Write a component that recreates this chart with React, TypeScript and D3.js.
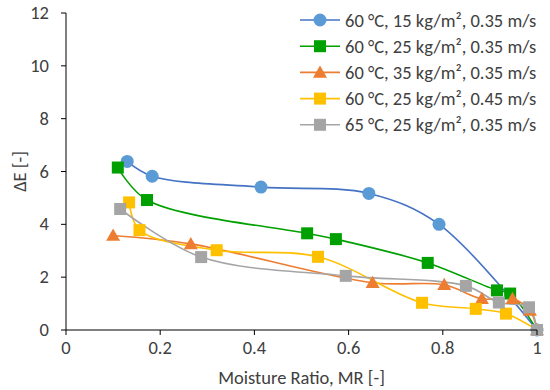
import React from 'react';
import * as d3 from 'd3';

// chart values
const seriesNames = [
  '60 °C, 15 kg/m², 0.35 m/s',
  '60 °C, 25 kg/m², 0.35 m/s',
  '60 °C, 35 kg/m², 0.35 m/s',
  '60 °C, 25 kg/m², 0.45 m/s',
  '65 °C, 25 kg/m², 0.35 m/s',
];
const mr15 = [0.13, 0.183, 0.414, 0.643, 0.792, 1.0];
const de15 = [6.38, 5.82, 5.41, 5.17, 4.0, 0];
const mr25 = [0.11, 0.172, 0.512, 0.573, 0.768, 0.915, 0.943, 1.0];
const de25 = [6.15, 4.92, 3.66, 3.44, 2.54, 1.5, 1.38, 0];
const mr35 = [0.1, 0.265, 0.651, 0.803, 0.883, 0.948, 0.985, 1.0];
const de35 = [3.58, 3.26, 1.79, 1.71, 1.18, 1.18, 0.74, 0];
const mr45 = [0.134, 0.156, 0.32, 0.535, 0.756, 0.87, 0.934, 1.0];
const de45 = [4.83, 3.78, 3.02, 2.77, 1.03, 0.8, 0.62, 0];
const mr65 = [0.115, 0.287, 0.594, 0.849, 0.919, 0.983, 1.0];
const de65 = [4.58, 2.76, 2.05, 1.67, 1.04, 0.86, 0];
const xTicks = [0, 0.2, 0.4, 0.6, 0.8, 1];
const yTicks = [0, 2, 4, 6, 8, 10, 12];

const colors = ['#4472C4', '#00A000', '#ED7D31', '#FFC000', '#A5A5A5'];
const markerColors = ['#5B9BD5', '#00A000', '#ED7D31', '#FFC000', '#A5A5A5'];
const shapes = ['circle', 'square', 'triangle', 'square', 'square'];

const allSeries = [
  [mr15, de15],
  [mr25, de25],
  [mr35, de35],
  [mr45, de45],
  [mr65, de65],
];

const width = 550;
const height = 390;
const margin = { top: 13, right: 13, bottom: 60, left: 66 };
const font = 'Carlito, Calibri, "Open Sans", sans-serif';
const fs = 18.5;

const Marker = ({ shape, x, y, color }: { shape: string; x: number; y: number; color: string }) => {
  if (shape === 'circle') return <circle cx={x} cy={y} r={6.5} fill={color} />;
  if (shape === 'triangle') {
    const s = 7;
    return <path d={`M${x},${y - s}L${x + s},${y + s * 0.75}L${x - s},${y + s * 0.75}Z`} fill={color} />;
  }
  return <rect x={x - 6} y={y - 6} width={12} height={12} fill={color} />;
};

const App = () => {
  const x = d3.scaleLinear().domain([0, 1]).range([margin.left, width - margin.right]);
  const y = d3.scaleLinear().domain([0, 12]).range([height - margin.bottom, margin.top]);

  const line = d3
    .line<[number, number]>()
    .x((d) => x(d[0]))
    .y((d) => y(d[1]))
    .curve(d3.curveCatmullRom.alpha(0.5));

  const y0 = y(0);

  return (
    <svg width={width} height={height} style={{ position: 'absolute', left: 0, top: 0 }} fontFamily={font}>
      <rect width={width} height={height} fill="#fff" />

      {/* series lines */}
      {allSeries.map(([xs, ys], i) => (
        <path
          key={'l' + i}
          d={line(xs.map((v, j) => [v, ys[j]]) as [number, number][]) || ''}
          fill="none"
          stroke={colors[i]}
          strokeWidth={1.6}
        />
      ))}

      {/* markers */}
      {allSeries.map(([xs, ys], i) =>
        xs.map((v, j) => (
          <Marker key={`m${i}-${j}`} shape={shapes[i]} x={x(v)} y={y(ys[j])} color={markerColors[i]} />
        ))
      )}

      {/* axes */}
      <line x1={x(0)} x2={x(1)} y1={y0} y2={y0} stroke="#000" strokeWidth={1} />
      <line x1={x(0)} x2={x(0)} y1={y(0)} y2={y(12)} stroke="#000" strokeWidth={1} />
      {xTicks.map((t) => (
        <g key={'x' + t}>
          <line x1={x(t)} x2={x(t)} y1={y0} y2={y0 + 5} stroke="#000" />
          <text x={x(t)} y={y0 + 24} textAnchor="middle" fontSize={fs} fill="#404040">
            {t}
          </text>
        </g>
      ))}
      {yTicks.map((t) => (
        <g key={'y' + t}>
          <line x1={x(0) - 5} x2={x(0)} y1={y(t)} y2={y(t)} stroke="#000" />
          <text x={x(0) - 17} y={y(t) + 6} textAnchor="end" fontSize={fs} fill="#404040">
            {t}
          </text>
        </g>
      ))}

      <text x={(x(0) + x(1)) / 2} y={height - 6} textAnchor="middle" fontSize={fs} fill="#404040">
        Moisture Ratio, MR [-]
      </text>
      <text
        transform={`translate(26,${(y(0) + y(12)) / 2}) rotate(-90)`}
        textAnchor="middle"
        fontSize={fs}
        fill="#404040"
      >
        ΔE [-]
      </text>

      {/* legend */}
      {seriesNames.map((name, i) => {
        const ly = 20 + i * 26.2;
        return (
          <g key={'lg' + i}>
            <line x1={300} x2={340} y1={ly} y2={ly} stroke={colors[i]} strokeWidth={1.6} />
            <Marker shape={shapes[i]} x={320} y={ly} color={markerColors[i]} />
            <text x={345} y={ly + 6.5} fontSize={fs} fill="#404040">
              {name}
            </text>
          </g>
        );
      })}
    </svg>
  );
};

export default App;
